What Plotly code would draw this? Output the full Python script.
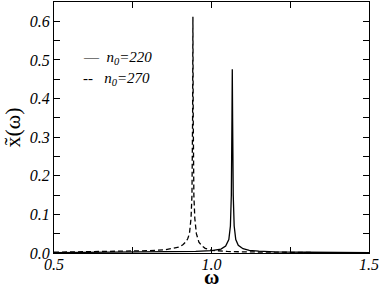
import plotly.graph_objects as go

# values
omega_220 = [0.50, 0.80, 0.90, 0.95, 1.00, 1.03, 1.045, 1.055, 1.060, 1.063, 1.065,
             1.066, 1.067, 1.069, 1.072, 1.077, 1.085, 1.10, 1.12, 1.15, 1.20, 1.30, 1.50]
chi_220 = [0.001, 0.002, 0.003, 0.004, 0.006, 0.010, 0.018, 0.035, 0.07, 0.15, 0.35,
           0.476, 0.35, 0.15, 0.07, 0.035, 0.020, 0.011, 0.007, 0.005, 0.003, 0.002, 0.001]

omega_270 = [0.50, 0.60, 0.70, 0.80, 0.85, 0.88, 0.90, 0.91, 0.92, 0.925, 0.93, 0.935,
             0.938, 0.940, 0.941, 0.942, 0.944, 0.947, 0.952, 0.96, 0.97, 0.98, 1.00,
             1.05, 1.10, 1.20, 1.35, 1.50]
chi_270 = [0.002, 0.003, 0.004, 0.006, 0.008, 0.012, 0.016, 0.022, 0.030, 0.038, 0.050, 0.09,
           0.15, 0.35, 0.612, 0.35, 0.15, 0.09, 0.05, 0.028, 0.018, 0.012, 0.007,
           0.004, 0.003, 0.002, 0.001, 0.001]

x_ticks = [0.5, 1.0, 1.5]
y_ticks = [0.0, 0.1, 0.2, 0.3, 0.4, 0.5, 0.6]
legend_labels = ["—&nbsp;&nbsp;<i>n<sub>0</sub>=220</i>", "--&nbsp;&nbsp;&nbsp;<i>n<sub>0</sub>=270</i>"]

fig = go.Figure()
fig.add_trace(go.Scatter(x=omega_220, y=chi_220, mode="lines", name="n0=220",
                         line=dict(color="black", width=1.3)))
fig.add_trace(go.Scatter(x=omega_270, y=chi_270, mode="lines", name="n0=270",
                         line=dict(color="black", width=1.3, dash="5px,3px")))

serif = "Liberation Serif"
axis_common = dict(
    showline=True, linecolor="black", linewidth=1.3, mirror="allticks",
    ticks="inside", ticklen=6, tickcolor="black", showgrid=False, zeroline=False,
    automargin=False,
    tickfont=dict(family=serif, size=16, color="black", style="italic"),
)

fig.update_xaxes(range=[0.5, 1.5], tickvals=x_ticks, ticktext=["0.5", "1.0", "1.5"],
                 minor=dict(dtick=0.25, ticks="inside", ticklen=6, tickcolor="black"),
                 ticklabelstandoff=-3,
                 **axis_common)
fig.update_yaxes(range=[0, 0.65], tickvals=y_ticks, ticktext=[f"{v:.1f}" for v in y_ticks],
                 minor=dict(dtick=0.05, ticks="inside", ticklen=6, tickcolor="black"),
                 **axis_common)

# axis titles
fig.add_annotation(text="<b>ω</b>", x=0.5, y=0, xref="paper", yref="paper",
                   xanchor="center", yanchor="middle", yshift=-24, showarrow=False,
                   font=dict(family=serif, size=21, color="black"))
fig.add_annotation(text="x̃(ω)", x=0, y=0.5, xref="paper", yref="paper",
                   xanchor="center", yanchor="middle", xshift=-42, textangle=-90,
                   showarrow=False, font=dict(family=serif, size=22, color="black"))

# legend drawn as text, like the reference
for i, lab in enumerate(legend_labels):
    fig.add_annotation(text=lab, x=0.085, y=0.775 - i * 0.08, xref="paper", yref="paper",
                       xanchor="left", yanchor="middle", showarrow=False,
                       font=dict(family=serif, size=15, color="black"))

fig.update_layout(
    width=382, height=288,
    margin=dict(l=54, r=13, t=2, b=35),
    plot_bgcolor="white", paper_bgcolor="white",
    showlegend=False,
)

fig.write_html("out.html", config={"displayModeBar": False},
               post_script="document.body.style.margin='0';")
